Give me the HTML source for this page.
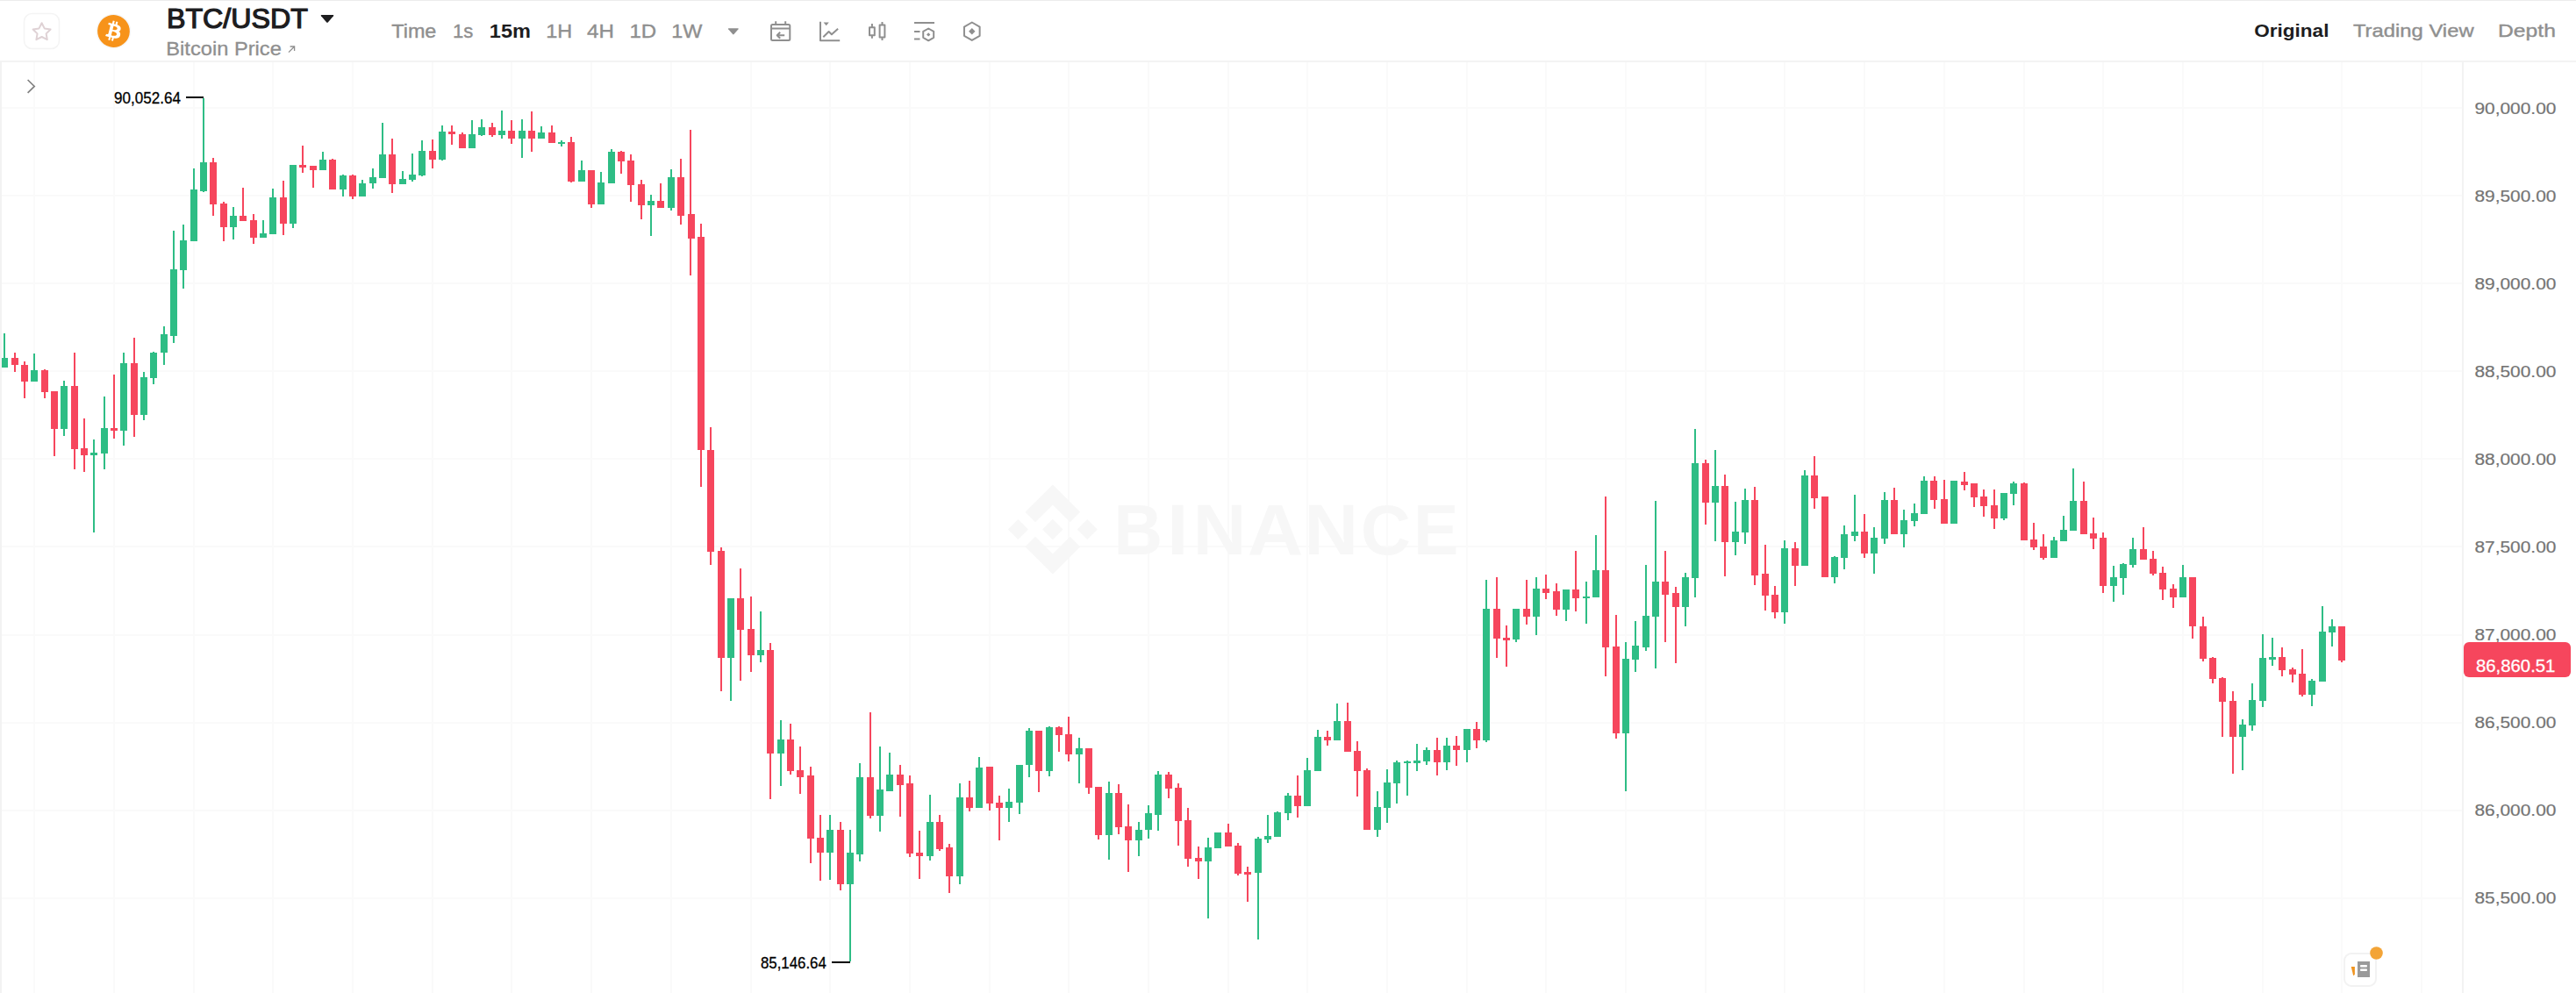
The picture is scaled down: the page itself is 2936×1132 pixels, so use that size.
<!DOCTYPE html>
<html lang="en"><head><meta charset="utf-8"><title>BTC/USDT | Binance Spot</title>
<style>html,body{margin:0;padding:0;background:#fff;overflow:hidden}body{width:2936px;height:1132px;font-family:"Liberation Sans",sans-serif}svg{display:block}text{font-family:"Liberation Sans",sans-serif}</style></head><body>
<svg width="2936" height="1132" viewBox="0 0 2936 1132">
<rect width="2936" height="1132" fill="#fff"/>
<g id="grid" shape-rendering="crispEdges">
<rect x="38" y="71" width="2" height="1061" fill="#fafafa"/>
<rect x="129" y="71" width="2" height="1061" fill="#fafafa"/>
<rect x="220" y="71" width="2" height="1061" fill="#fafafa"/>
<rect x="310" y="71" width="2" height="1061" fill="#fafafa"/>
<rect x="401" y="71" width="2" height="1061" fill="#fafafa"/>
<rect x="492" y="71" width="2" height="1061" fill="#fafafa"/>
<rect x="582" y="71" width="2" height="1061" fill="#fafafa"/>
<rect x="673" y="71" width="2" height="1061" fill="#fafafa"/>
<rect x="764" y="71" width="2" height="1061" fill="#fafafa"/>
<rect x="855" y="71" width="2" height="1061" fill="#fafafa"/>
<rect x="945" y="71" width="2" height="1061" fill="#fafafa"/>
<rect x="1036" y="71" width="2" height="1061" fill="#fafafa"/>
<rect x="1127" y="71" width="2" height="1061" fill="#fafafa"/>
<rect x="1217" y="71" width="2" height="1061" fill="#fafafa"/>
<rect x="1308" y="71" width="2" height="1061" fill="#fafafa"/>
<rect x="1399" y="71" width="2" height="1061" fill="#fafafa"/>
<rect x="1489" y="71" width="2" height="1061" fill="#fafafa"/>
<rect x="1580" y="71" width="2" height="1061" fill="#fafafa"/>
<rect x="1671" y="71" width="2" height="1061" fill="#fafafa"/>
<rect x="1761" y="71" width="2" height="1061" fill="#fafafa"/>
<rect x="1852" y="71" width="2" height="1061" fill="#fafafa"/>
<rect x="1943" y="71" width="2" height="1061" fill="#fafafa"/>
<rect x="2033" y="71" width="2" height="1061" fill="#fafafa"/>
<rect x="2124" y="71" width="2" height="1061" fill="#fafafa"/>
<rect x="2215" y="71" width="2" height="1061" fill="#fafafa"/>
<rect x="2306" y="71" width="2" height="1061" fill="#fafafa"/>
<rect x="2396" y="71" width="2" height="1061" fill="#fafafa"/>
<rect x="2487" y="71" width="2" height="1061" fill="#fafafa"/>
<rect x="2578" y="71" width="2" height="1061" fill="#fafafa"/>
<rect x="2668" y="71" width="2" height="1061" fill="#fafafa"/>
<rect x="2759" y="71" width="2" height="1061" fill="#fafafa"/>
<rect x="2" y="122" width="2805" height="2" fill="#fafafa"/>
<rect x="2" y="222" width="2805" height="2" fill="#fafafa"/>
<rect x="2" y="322" width="2805" height="2" fill="#fafafa"/>
<rect x="2" y="422" width="2805" height="2" fill="#fafafa"/>
<rect x="2" y="522" width="2805" height="2" fill="#fafafa"/>
<rect x="2" y="622" width="2805" height="2" fill="#fafafa"/>
<rect x="2" y="723" width="2805" height="2" fill="#fafafa"/>
<rect x="2" y="823" width="2805" height="2" fill="#fafafa"/>
<rect x="2" y="923" width="2805" height="2" fill="#fafafa"/>
<rect x="2" y="1023" width="2805" height="2" fill="#fafafa"/>
<rect x="2806" y="71" width="2" height="1061" fill="#f3f3f3"/>
</g>
<g id="watermark" fill="#f7f7f7">
<g transform="translate(1148.8,552.5) scale(0.8056)"><path d="M38.73 53.2l24.59-24.58 24.6 24.6 14.3-14.31L63.32 0l-38.9 38.9zM0 63.31l14.3-14.31 14.31 14.31-14.31 14.3zM38.73 73.41l24.59 24.59 24.6-24.6 14.31 14.29-38.9 38.91-38.91-38.88zM97.99 63.31l14.3-14.31 14.31 14.3-14.31 14.32zM77.83 63.3L63.32 48.78 52.59 59.51l-1.24 1.23-2.54 2.54 14.51 14.5 14.51-14.47z"/></g>
<text transform="translate(1269.47,631.8) scale(0.946,1)" font-size="81.3" font-weight="bold">B</text>
<text transform="translate(1330.37,631.8) scale(1.0667,1)" font-size="81.3" font-weight="bold">I</text>
<text transform="translate(1359.84,631.8) scale(1.0312,1)" font-size="81.3" font-weight="bold">N</text>
<text transform="translate(1421.83,631.8) scale(1.0833,1)" font-size="81.3" font-weight="bold">A</text>
<text transform="translate(1486.24,631.8) scale(1.0521,1)" font-size="81.3" font-weight="bold">N</text>
<text transform="translate(1551.06,631.8) scale(0.9808,1)" font-size="80.14" font-weight="bold">C</text>
<text transform="translate(1611.29,631.8) scale(0.9413,1)" font-size="81.3" font-weight="bold">E</text>
</g>
<g id="candles" shape-rendering="crispEdges">
<rect x="4" y="380" width="2" height="39" fill="#2EBD85"/><rect x="1" y="408" width="8" height="11" fill="#2EBD85"/>
<rect x="16" y="402" width="2" height="22" fill="#F6465D"/><rect x="13" y="408" width="8" height="8" fill="#F6465D"/>
<rect x="27" y="412" width="2" height="42" fill="#F6465D"/><rect x="24" y="416" width="8" height="19" fill="#F6465D"/>
<rect x="38" y="403" width="2" height="32" fill="#2EBD85"/><rect x="35" y="422" width="8" height="13" fill="#2EBD85"/>
<rect x="50" y="421" width="2" height="33" fill="#F6465D"/><rect x="47" y="422" width="8" height="25" fill="#F6465D"/>
<rect x="61" y="446" width="2" height="74" fill="#F6465D"/><rect x="58" y="446" width="8" height="43" fill="#F6465D"/>
<rect x="72" y="434" width="2" height="63" fill="#2EBD85"/><rect x="69" y="440" width="8" height="49" fill="#2EBD85"/>
<rect x="84" y="402" width="2" height="133" fill="#F6465D"/><rect x="81" y="440" width="8" height="72" fill="#F6465D"/>
<rect x="95" y="477" width="2" height="61" fill="#F6465D"/><rect x="92" y="511" width="8" height="8" fill="#F6465D"/>
<rect x="106" y="501" width="2" height="106" fill="#2EBD85"/><rect x="103" y="516" width="8" height="3" fill="#2EBD85"/>
<rect x="118" y="452" width="2" height="83" fill="#2EBD85"/><rect x="115" y="488" width="8" height="29" fill="#2EBD85"/>
<rect x="129" y="427" width="2" height="73" fill="#F6465D"/><rect x="126" y="488" width="8" height="3" fill="#F6465D"/>
<rect x="140" y="402" width="2" height="106" fill="#2EBD85"/><rect x="137" y="414" width="8" height="77" fill="#2EBD85"/>
<rect x="152" y="385" width="2" height="113" fill="#F6465D"/><rect x="149" y="414" width="8" height="59" fill="#F6465D"/>
<rect x="163" y="424" width="2" height="55" fill="#2EBD85"/><rect x="160" y="430" width="8" height="43" fill="#2EBD85"/>
<rect x="174" y="401" width="2" height="37" fill="#2EBD85"/><rect x="171" y="402" width="8" height="29" fill="#2EBD85"/>
<rect x="186" y="372" width="2" height="44" fill="#2EBD85"/><rect x="183" y="381" width="8" height="21" fill="#2EBD85"/>
<rect x="197" y="263" width="2" height="128" fill="#2EBD85"/><rect x="194" y="307" width="8" height="76" fill="#2EBD85"/>
<rect x="208" y="256" width="2" height="73" fill="#2EBD85"/><rect x="205" y="274" width="8" height="34" fill="#2EBD85"/>
<rect x="220" y="192" width="2" height="83" fill="#2EBD85"/><rect x="217" y="216" width="8" height="59" fill="#2EBD85"/>
<rect x="231" y="112" width="2" height="107" fill="#2EBD85"/><rect x="228" y="185" width="8" height="33" fill="#2EBD85"/>
<rect x="242" y="180" width="2" height="66" fill="#F6465D"/><rect x="239" y="185" width="8" height="48" fill="#F6465D"/>
<rect x="254" y="230" width="2" height="45" fill="#F6465D"/><rect x="251" y="232" width="8" height="27" fill="#F6465D"/>
<rect x="265" y="236" width="2" height="37" fill="#2EBD85"/><rect x="262" y="246" width="8" height="13" fill="#2EBD85"/>
<rect x="276" y="214" width="2" height="38" fill="#F6465D"/><rect x="273" y="246" width="8" height="6" fill="#F6465D"/>
<rect x="288" y="244" width="2" height="34" fill="#F6465D"/><rect x="285" y="251" width="8" height="20" fill="#F6465D"/>
<rect x="299" y="251" width="2" height="20" fill="#2EBD85"/><rect x="296" y="266" width="8" height="5" fill="#2EBD85"/>
<rect x="310" y="215" width="2" height="52" fill="#2EBD85"/><rect x="307" y="225" width="8" height="42" fill="#2EBD85"/>
<rect x="322" y="206" width="2" height="62" fill="#F6465D"/><rect x="319" y="225" width="8" height="30" fill="#F6465D"/>
<rect x="333" y="188" width="2" height="72" fill="#2EBD85"/><rect x="330" y="188" width="8" height="67" fill="#2EBD85"/>
<rect x="344" y="166" width="2" height="31" fill="#F6465D"/><rect x="341" y="188" width="8" height="3" fill="#F6465D"/>
<rect x="356" y="189" width="2" height="25" fill="#F6465D"/><rect x="353" y="189" width="8" height="5" fill="#F6465D"/>
<rect x="367" y="173" width="2" height="21" fill="#2EBD85"/><rect x="364" y="182" width="8" height="12" fill="#2EBD85"/>
<rect x="378" y="181" width="2" height="35" fill="#F6465D"/><rect x="375" y="182" width="8" height="34" fill="#F6465D"/>
<rect x="390" y="199" width="2" height="25" fill="#2EBD85"/><rect x="387" y="200" width="8" height="16" fill="#2EBD85"/>
<rect x="401" y="199" width="2" height="28" fill="#F6465D"/><rect x="398" y="200" width="8" height="24" fill="#F6465D"/>
<rect x="412" y="205" width="2" height="19" fill="#2EBD85"/><rect x="409" y="209" width="8" height="15" fill="#2EBD85"/>
<rect x="424" y="192" width="2" height="23" fill="#2EBD85"/><rect x="421" y="202" width="8" height="7" fill="#2EBD85"/>
<rect x="435" y="140" width="2" height="63" fill="#2EBD85"/><rect x="432" y="176" width="8" height="27" fill="#2EBD85"/>
<rect x="446" y="158" width="2" height="62" fill="#F6465D"/><rect x="443" y="176" width="8" height="34" fill="#F6465D"/>
<rect x="458" y="195" width="2" height="15" fill="#2EBD85"/><rect x="455" y="204" width="8" height="6" fill="#2EBD85"/>
<rect x="469" y="175" width="2" height="32" fill="#2EBD85"/><rect x="466" y="199" width="8" height="6" fill="#2EBD85"/>
<rect x="480" y="160" width="2" height="41" fill="#2EBD85"/><rect x="477" y="172" width="8" height="28" fill="#2EBD85"/>
<rect x="492" y="159" width="2" height="33" fill="#F6465D"/><rect x="489" y="172" width="8" height="10" fill="#F6465D"/>
<rect x="503" y="143" width="2" height="40" fill="#2EBD85"/><rect x="500" y="150" width="8" height="32" fill="#2EBD85"/>
<rect x="514" y="143" width="2" height="22" fill="#F6465D"/><rect x="511" y="150" width="8" height="3" fill="#F6465D"/>
<rect x="526" y="151" width="2" height="18" fill="#F6465D"/><rect x="523" y="153" width="8" height="16" fill="#F6465D"/>
<rect x="537" y="137" width="2" height="32" fill="#2EBD85"/><rect x="534" y="153" width="8" height="16" fill="#2EBD85"/>
<rect x="548" y="136" width="2" height="19" fill="#2EBD85"/><rect x="545" y="145" width="8" height="9" fill="#2EBD85"/>
<rect x="560" y="140" width="2" height="16" fill="#F6465D"/><rect x="557" y="145" width="8" height="9" fill="#F6465D"/>
<rect x="571" y="126" width="2" height="32" fill="#2EBD85"/><rect x="568" y="149" width="8" height="5" fill="#2EBD85"/>
<rect x="582" y="137" width="2" height="27" fill="#F6465D"/><rect x="579" y="149" width="8" height="9" fill="#F6465D"/>
<rect x="594" y="136" width="2" height="44" fill="#2EBD85"/><rect x="591" y="149" width="8" height="9" fill="#2EBD85"/>
<rect x="605" y="127" width="2" height="46" fill="#F6465D"/><rect x="602" y="149" width="8" height="9" fill="#F6465D"/>
<rect x="616" y="144" width="2" height="14" fill="#2EBD85"/><rect x="613" y="151" width="8" height="7" fill="#2EBD85"/>
<rect x="628" y="143" width="2" height="20" fill="#F6465D"/><rect x="625" y="151" width="8" height="12" fill="#F6465D"/>
<rect x="639" y="160" width="2" height="7" fill="#2EBD85"/><rect x="636" y="162" width="8" height="2" fill="#2EBD85"/>
<rect x="650" y="156" width="2" height="52" fill="#F6465D"/><rect x="647" y="162" width="8" height="45" fill="#F6465D"/>
<rect x="662" y="183" width="2" height="24" fill="#2EBD85"/><rect x="659" y="194" width="8" height="13" fill="#2EBD85"/>
<rect x="673" y="194" width="2" height="43" fill="#F6465D"/><rect x="670" y="194" width="8" height="39" fill="#F6465D"/>
<rect x="684" y="196" width="2" height="37" fill="#2EBD85"/><rect x="681" y="208" width="8" height="25" fill="#2EBD85"/>
<rect x="696" y="170" width="2" height="39" fill="#2EBD85"/><rect x="693" y="173" width="8" height="36" fill="#2EBD85"/>
<rect x="707" y="172" width="2" height="26" fill="#F6465D"/><rect x="704" y="173" width="8" height="11" fill="#F6465D"/>
<rect x="718" y="176" width="2" height="54" fill="#F6465D"/><rect x="715" y="183" width="8" height="28" fill="#F6465D"/>
<rect x="730" y="205" width="2" height="45" fill="#F6465D"/><rect x="727" y="210" width="8" height="24" fill="#F6465D"/>
<rect x="741" y="222" width="2" height="47" fill="#2EBD85"/><rect x="738" y="229" width="8" height="5" fill="#2EBD85"/>
<rect x="752" y="209" width="2" height="28" fill="#F6465D"/><rect x="749" y="229" width="8" height="8" fill="#F6465D"/>
<rect x="764" y="193" width="2" height="47" fill="#2EBD85"/><rect x="761" y="202" width="8" height="35" fill="#2EBD85"/>
<rect x="775" y="181" width="2" height="75" fill="#F6465D"/><rect x="772" y="202" width="8" height="44" fill="#F6465D"/>
<rect x="786" y="148" width="2" height="166" fill="#F6465D"/><rect x="784" y="244" width="8" height="28" fill="#F6465D"/>
<rect x="798" y="255" width="2" height="300" fill="#F6465D"/><rect x="795" y="270" width="8" height="243" fill="#F6465D"/>
<rect x="809" y="487" width="2" height="157" fill="#F6465D"/><rect x="806" y="513" width="8" height="116" fill="#F6465D"/>
<rect x="821" y="624" width="2" height="164" fill="#F6465D"/><rect x="818" y="628" width="8" height="122" fill="#F6465D"/>
<rect x="832" y="682" width="2" height="117" fill="#2EBD85"/><rect x="829" y="682" width="8" height="68" fill="#2EBD85"/>
<rect x="843" y="648" width="2" height="128" fill="#F6465D"/><rect x="840" y="682" width="8" height="36" fill="#F6465D"/>
<rect x="855" y="680" width="2" height="86" fill="#F6465D"/><rect x="852" y="717" width="8" height="30" fill="#F6465D"/>
<rect x="866" y="697" width="2" height="58" fill="#2EBD85"/><rect x="863" y="741" width="8" height="6" fill="#2EBD85"/>
<rect x="877" y="733" width="2" height="178" fill="#F6465D"/><rect x="874" y="741" width="8" height="118" fill="#F6465D"/>
<rect x="889" y="821" width="2" height="75" fill="#2EBD85"/><rect x="886" y="843" width="8" height="16" fill="#2EBD85"/>
<rect x="900" y="825" width="2" height="58" fill="#F6465D"/><rect x="897" y="843" width="8" height="36" fill="#F6465D"/>
<rect x="911" y="851" width="2" height="54" fill="#F6465D"/><rect x="908" y="878" width="8" height="8" fill="#F6465D"/>
<rect x="923" y="874" width="2" height="110" fill="#F6465D"/><rect x="920" y="884" width="8" height="72" fill="#F6465D"/>
<rect x="934" y="929" width="2" height="75" fill="#F6465D"/><rect x="931" y="955" width="8" height="17" fill="#F6465D"/>
<rect x="945" y="929" width="2" height="74" fill="#2EBD85"/><rect x="942" y="946" width="8" height="26" fill="#2EBD85"/>
<rect x="957" y="937" width="2" height="78" fill="#F6465D"/><rect x="954" y="946" width="8" height="62" fill="#F6465D"/>
<rect x="968" y="946" width="2" height="150" fill="#2EBD85"/><rect x="965" y="972" width="8" height="36" fill="#2EBD85"/>
<rect x="979" y="870" width="2" height="112" fill="#2EBD85"/><rect x="976" y="886" width="8" height="88" fill="#2EBD85"/>
<rect x="991" y="812" width="2" height="121" fill="#F6465D"/><rect x="988" y="886" width="8" height="44" fill="#F6465D"/>
<rect x="1002" y="851" width="2" height="97" fill="#2EBD85"/><rect x="999" y="900" width="8" height="30" fill="#2EBD85"/>
<rect x="1013" y="858" width="2" height="44" fill="#2EBD85"/><rect x="1010" y="883" width="8" height="19" fill="#2EBD85"/>
<rect x="1025" y="872" width="2" height="59" fill="#F6465D"/><rect x="1022" y="883" width="8" height="12" fill="#F6465D"/>
<rect x="1036" y="884" width="2" height="93" fill="#F6465D"/><rect x="1033" y="893" width="8" height="80" fill="#F6465D"/>
<rect x="1047" y="947" width="2" height="55" fill="#F6465D"/><rect x="1044" y="972" width="8" height="4" fill="#F6465D"/>
<rect x="1059" y="906" width="2" height="75" fill="#2EBD85"/><rect x="1056" y="937" width="8" height="39" fill="#2EBD85"/>
<rect x="1070" y="929" width="2" height="41" fill="#F6465D"/><rect x="1067" y="937" width="8" height="31" fill="#F6465D"/>
<rect x="1081" y="962" width="2" height="56" fill="#F6465D"/><rect x="1078" y="966" width="8" height="33" fill="#F6465D"/>
<rect x="1093" y="893" width="2" height="115" fill="#2EBD85"/><rect x="1090" y="909" width="8" height="90" fill="#2EBD85"/>
<rect x="1104" y="890" width="2" height="35" fill="#F6465D"/><rect x="1101" y="909" width="8" height="12" fill="#F6465D"/>
<rect x="1115" y="863" width="2" height="58" fill="#2EBD85"/><rect x="1112" y="875" width="8" height="46" fill="#2EBD85"/>
<rect x="1127" y="874" width="2" height="50" fill="#F6465D"/><rect x="1124" y="874" width="8" height="42" fill="#F6465D"/>
<rect x="1138" y="907" width="2" height="51" fill="#F6465D"/><rect x="1135" y="915" width="8" height="6" fill="#F6465D"/>
<rect x="1149" y="899" width="2" height="38" fill="#2EBD85"/><rect x="1146" y="914" width="8" height="7" fill="#2EBD85"/>
<rect x="1161" y="872" width="2" height="56" fill="#2EBD85"/><rect x="1158" y="872" width="8" height="43" fill="#2EBD85"/>
<rect x="1172" y="830" width="2" height="56" fill="#2EBD85"/><rect x="1169" y="833" width="8" height="39" fill="#2EBD85"/>
<rect x="1183" y="833" width="2" height="70" fill="#F6465D"/><rect x="1180" y="833" width="8" height="46" fill="#F6465D"/>
<rect x="1195" y="828" width="2" height="57" fill="#2EBD85"/><rect x="1192" y="829" width="8" height="50" fill="#2EBD85"/>
<rect x="1206" y="828" width="2" height="29" fill="#F6465D"/><rect x="1203" y="829" width="8" height="9" fill="#F6465D"/>
<rect x="1217" y="817" width="2" height="51" fill="#F6465D"/><rect x="1214" y="837" width="8" height="23" fill="#F6465D"/>
<rect x="1229" y="841" width="2" height="52" fill="#2EBD85"/><rect x="1226" y="853" width="8" height="7" fill="#2EBD85"/>
<rect x="1240" y="853" width="2" height="52" fill="#F6465D"/><rect x="1237" y="853" width="8" height="45" fill="#F6465D"/>
<rect x="1251" y="897" width="2" height="60" fill="#F6465D"/><rect x="1248" y="897" width="8" height="55" fill="#F6465D"/>
<rect x="1263" y="891" width="2" height="89" fill="#2EBD85"/><rect x="1260" y="904" width="8" height="48" fill="#2EBD85"/>
<rect x="1274" y="894" width="2" height="57" fill="#F6465D"/><rect x="1271" y="904" width="8" height="39" fill="#F6465D"/>
<rect x="1285" y="917" width="2" height="77" fill="#F6465D"/><rect x="1282" y="942" width="8" height="16" fill="#F6465D"/>
<rect x="1297" y="937" width="2" height="39" fill="#2EBD85"/><rect x="1294" y="946" width="8" height="12" fill="#2EBD85"/>
<rect x="1308" y="918" width="2" height="38" fill="#2EBD85"/><rect x="1305" y="927" width="8" height="19" fill="#2EBD85"/>
<rect x="1319" y="879" width="2" height="68" fill="#2EBD85"/><rect x="1316" y="883" width="8" height="46" fill="#2EBD85"/>
<rect x="1331" y="880" width="2" height="30" fill="#F6465D"/><rect x="1328" y="883" width="8" height="16" fill="#F6465D"/>
<rect x="1342" y="893" width="2" height="71" fill="#F6465D"/><rect x="1339" y="898" width="8" height="38" fill="#F6465D"/>
<rect x="1353" y="921" width="2" height="67" fill="#F6465D"/><rect x="1350" y="935" width="8" height="44" fill="#F6465D"/>
<rect x="1365" y="965" width="2" height="37" fill="#F6465D"/><rect x="1362" y="978" width="8" height="4" fill="#F6465D"/>
<rect x="1376" y="955" width="2" height="92" fill="#2EBD85"/><rect x="1373" y="966" width="8" height="16" fill="#2EBD85"/>
<rect x="1387" y="949" width="2" height="18" fill="#2EBD85"/><rect x="1384" y="949" width="8" height="18" fill="#2EBD85"/>
<rect x="1399" y="939" width="2" height="26" fill="#F6465D"/><rect x="1396" y="949" width="8" height="16" fill="#F6465D"/>
<rect x="1410" y="961" width="2" height="37" fill="#F6465D"/><rect x="1407" y="964" width="8" height="32" fill="#F6465D"/>
<rect x="1421" y="988" width="2" height="40" fill="#F6465D"/><rect x="1418" y="994" width="8" height="3" fill="#F6465D"/>
<rect x="1433" y="954" width="2" height="117" fill="#2EBD85"/><rect x="1430" y="956" width="8" height="39" fill="#2EBD85"/>
<rect x="1444" y="929" width="2" height="32" fill="#2EBD85"/><rect x="1441" y="953" width="8" height="4" fill="#2EBD85"/>
<rect x="1455" y="925" width="2" height="29" fill="#2EBD85"/><rect x="1452" y="926" width="8" height="28" fill="#2EBD85"/>
<rect x="1467" y="904" width="2" height="31" fill="#2EBD85"/><rect x="1464" y="907" width="8" height="20" fill="#2EBD85"/>
<rect x="1478" y="884" width="2" height="48" fill="#F6465D"/><rect x="1475" y="907" width="8" height="12" fill="#F6465D"/>
<rect x="1489" y="864" width="2" height="55" fill="#2EBD85"/><rect x="1486" y="878" width="8" height="41" fill="#2EBD85"/>
<rect x="1501" y="832" width="2" height="47" fill="#2EBD85"/><rect x="1498" y="840" width="8" height="39" fill="#2EBD85"/>
<rect x="1512" y="833" width="2" height="17" fill="#F6465D"/><rect x="1509" y="840" width="8" height="4" fill="#F6465D"/>
<rect x="1523" y="802" width="2" height="42" fill="#2EBD85"/><rect x="1520" y="822" width="8" height="22" fill="#2EBD85"/>
<rect x="1535" y="801" width="2" height="56" fill="#F6465D"/><rect x="1532" y="822" width="8" height="35" fill="#F6465D"/>
<rect x="1546" y="845" width="2" height="63" fill="#F6465D"/><rect x="1543" y="856" width="8" height="23" fill="#F6465D"/>
<rect x="1557" y="876" width="2" height="70" fill="#F6465D"/><rect x="1554" y="878" width="8" height="68" fill="#F6465D"/>
<rect x="1569" y="902" width="2" height="52" fill="#2EBD85"/><rect x="1566" y="920" width="8" height="26" fill="#2EBD85"/>
<rect x="1580" y="877" width="2" height="61" fill="#2EBD85"/><rect x="1577" y="892" width="8" height="29" fill="#2EBD85"/>
<rect x="1591" y="867" width="2" height="49" fill="#2EBD85"/><rect x="1588" y="869" width="8" height="24" fill="#2EBD85"/>
<rect x="1603" y="867" width="2" height="40" fill="#2EBD85"/><rect x="1600" y="868" width="8" height="2" fill="#2EBD85"/>
<rect x="1614" y="848" width="2" height="31" fill="#2EBD85"/><rect x="1611" y="867" width="8" height="3" fill="#2EBD85"/>
<rect x="1625" y="852" width="2" height="20" fill="#2EBD85"/><rect x="1622" y="855" width="8" height="13" fill="#2EBD85"/>
<rect x="1637" y="841" width="2" height="43" fill="#F6465D"/><rect x="1634" y="855" width="8" height="14" fill="#F6465D"/>
<rect x="1648" y="841" width="2" height="37" fill="#2EBD85"/><rect x="1645" y="850" width="8" height="19" fill="#2EBD85"/>
<rect x="1659" y="839" width="2" height="34" fill="#F6465D"/><rect x="1656" y="850" width="8" height="5" fill="#F6465D"/>
<rect x="1671" y="831" width="2" height="38" fill="#2EBD85"/><rect x="1668" y="831" width="8" height="24" fill="#2EBD85"/>
<rect x="1682" y="823" width="2" height="30" fill="#F6465D"/><rect x="1679" y="831" width="8" height="13" fill="#F6465D"/>
<rect x="1693" y="661" width="2" height="185" fill="#2EBD85"/><rect x="1690" y="694" width="8" height="150" fill="#2EBD85"/>
<rect x="1705" y="658" width="2" height="92" fill="#F6465D"/><rect x="1702" y="694" width="8" height="34" fill="#F6465D"/>
<rect x="1716" y="713" width="2" height="47" fill="#F6465D"/><rect x="1713" y="727" width="8" height="3" fill="#F6465D"/>
<rect x="1727" y="694" width="2" height="38" fill="#2EBD85"/><rect x="1724" y="694" width="8" height="35" fill="#2EBD85"/>
<rect x="1739" y="661" width="2" height="51" fill="#F6465D"/><rect x="1736" y="694" width="8" height="9" fill="#F6465D"/>
<rect x="1750" y="658" width="2" height="66" fill="#2EBD85"/><rect x="1747" y="671" width="8" height="32" fill="#2EBD85"/>
<rect x="1761" y="655" width="2" height="28" fill="#F6465D"/><rect x="1758" y="671" width="8" height="5" fill="#F6465D"/>
<rect x="1773" y="665" width="2" height="37" fill="#F6465D"/><rect x="1770" y="674" width="8" height="21" fill="#F6465D"/>
<rect x="1784" y="672" width="2" height="36" fill="#2EBD85"/><rect x="1781" y="672" width="8" height="23" fill="#2EBD85"/>
<rect x="1795" y="628" width="2" height="69" fill="#F6465D"/><rect x="1792" y="672" width="8" height="10" fill="#F6465D"/>
<rect x="1807" y="663" width="2" height="48" fill="#2EBD85"/><rect x="1804" y="680" width="8" height="2" fill="#2EBD85"/>
<rect x="1818" y="610" width="2" height="71" fill="#2EBD85"/><rect x="1815" y="650" width="8" height="31" fill="#2EBD85"/>
<rect x="1829" y="566" width="2" height="205" fill="#F6465D"/><rect x="1826" y="650" width="8" height="88" fill="#F6465D"/>
<rect x="1841" y="701" width="2" height="141" fill="#F6465D"/><rect x="1838" y="737" width="8" height="99" fill="#F6465D"/>
<rect x="1852" y="732" width="2" height="170" fill="#2EBD85"/><rect x="1849" y="751" width="8" height="85" fill="#2EBD85"/>
<rect x="1863" y="708" width="2" height="58" fill="#2EBD85"/><rect x="1860" y="736" width="8" height="16" fill="#2EBD85"/>
<rect x="1875" y="644" width="2" height="98" fill="#2EBD85"/><rect x="1872" y="702" width="8" height="36" fill="#2EBD85"/>
<rect x="1886" y="571" width="2" height="191" fill="#2EBD85"/><rect x="1883" y="663" width="8" height="40" fill="#2EBD85"/>
<rect x="1897" y="628" width="2" height="104" fill="#F6465D"/><rect x="1894" y="663" width="8" height="15" fill="#F6465D"/>
<rect x="1909" y="669" width="2" height="87" fill="#F6465D"/><rect x="1906" y="676" width="8" height="16" fill="#F6465D"/>
<rect x="1920" y="653" width="2" height="61" fill="#2EBD85"/><rect x="1917" y="658" width="8" height="34" fill="#2EBD85"/>
<rect x="1931" y="489" width="2" height="192" fill="#2EBD85"/><rect x="1928" y="528" width="8" height="131" fill="#2EBD85"/>
<rect x="1943" y="524" width="2" height="74" fill="#F6465D"/><rect x="1940" y="528" width="8" height="45" fill="#F6465D"/>
<rect x="1954" y="513" width="2" height="104" fill="#2EBD85"/><rect x="1951" y="554" width="8" height="19" fill="#2EBD85"/>
<rect x="1965" y="541" width="2" height="116" fill="#F6465D"/><rect x="1962" y="554" width="8" height="64" fill="#F6465D"/>
<rect x="1977" y="572" width="2" height="61" fill="#2EBD85"/><rect x="1974" y="606" width="8" height="12" fill="#2EBD85"/>
<rect x="1988" y="557" width="2" height="63" fill="#2EBD85"/><rect x="1985" y="570" width="8" height="37" fill="#2EBD85"/>
<rect x="1999" y="555" width="2" height="112" fill="#F6465D"/><rect x="1996" y="570" width="8" height="86" fill="#F6465D"/>
<rect x="2011" y="621" width="2" height="75" fill="#F6465D"/><rect x="2008" y="654" width="8" height="25" fill="#F6465D"/>
<rect x="2022" y="668" width="2" height="37" fill="#F6465D"/><rect x="2019" y="678" width="8" height="20" fill="#F6465D"/>
<rect x="2033" y="616" width="2" height="95" fill="#2EBD85"/><rect x="2030" y="625" width="8" height="73" fill="#2EBD85"/>
<rect x="2045" y="618" width="2" height="50" fill="#F6465D"/><rect x="2042" y="625" width="8" height="20" fill="#F6465D"/>
<rect x="2056" y="536" width="2" height="109" fill="#2EBD85"/><rect x="2053" y="542" width="8" height="103" fill="#2EBD85"/>
<rect x="2067" y="520" width="2" height="60" fill="#F6465D"/><rect x="2064" y="542" width="8" height="26" fill="#F6465D"/>
<rect x="2079" y="566" width="2" height="92" fill="#F6465D"/><rect x="2076" y="566" width="8" height="92" fill="#F6465D"/>
<rect x="2090" y="634" width="2" height="31" fill="#2EBD85"/><rect x="2087" y="635" width="8" height="23" fill="#2EBD85"/>
<rect x="2101" y="599" width="2" height="50" fill="#2EBD85"/><rect x="2098" y="609" width="8" height="27" fill="#2EBD85"/>
<rect x="2113" y="564" width="2" height="53" fill="#2EBD85"/><rect x="2110" y="606" width="8" height="5" fill="#2EBD85"/>
<rect x="2124" y="586" width="2" height="50" fill="#F6465D"/><rect x="2121" y="606" width="8" height="25" fill="#F6465D"/>
<rect x="2135" y="601" width="2" height="53" fill="#2EBD85"/><rect x="2132" y="613" width="8" height="18" fill="#2EBD85"/>
<rect x="2147" y="561" width="2" height="59" fill="#2EBD85"/><rect x="2144" y="570" width="8" height="44" fill="#2EBD85"/>
<rect x="2158" y="556" width="2" height="53" fill="#F6465D"/><rect x="2155" y="570" width="8" height="39" fill="#F6465D"/>
<rect x="2169" y="581" width="2" height="43" fill="#2EBD85"/><rect x="2166" y="593" width="8" height="16" fill="#2EBD85"/>
<rect x="2181" y="574" width="2" height="26" fill="#2EBD85"/><rect x="2178" y="585" width="8" height="9" fill="#2EBD85"/>
<rect x="2192" y="543" width="2" height="43" fill="#2EBD85"/><rect x="2189" y="548" width="8" height="38" fill="#2EBD85"/>
<rect x="2204" y="543" width="2" height="37" fill="#F6465D"/><rect x="2200" y="548" width="8" height="22" fill="#F6465D"/>
<rect x="2215" y="547" width="2" height="50" fill="#F6465D"/><rect x="2212" y="569" width="8" height="28" fill="#F6465D"/>
<rect x="2226" y="548" width="2" height="49" fill="#2EBD85"/><rect x="2223" y="548" width="8" height="49" fill="#2EBD85"/>
<rect x="2238" y="538" width="2" height="21" fill="#F6465D"/><rect x="2235" y="549" width="8" height="4" fill="#F6465D"/>
<rect x="2249" y="551" width="2" height="27" fill="#F6465D"/><rect x="2246" y="551" width="8" height="16" fill="#F6465D"/>
<rect x="2260" y="558" width="2" height="31" fill="#F6465D"/><rect x="2257" y="566" width="8" height="11" fill="#F6465D"/>
<rect x="2272" y="558" width="2" height="45" fill="#F6465D"/><rect x="2269" y="576" width="8" height="15" fill="#F6465D"/>
<rect x="2283" y="562" width="2" height="31" fill="#2EBD85"/><rect x="2280" y="562" width="8" height="29" fill="#2EBD85"/>
<rect x="2294" y="549" width="2" height="27" fill="#2EBD85"/><rect x="2291" y="551" width="8" height="12" fill="#2EBD85"/>
<rect x="2306" y="550" width="2" height="66" fill="#F6465D"/><rect x="2303" y="551" width="8" height="65" fill="#F6465D"/>
<rect x="2317" y="596" width="2" height="31" fill="#F6465D"/><rect x="2314" y="615" width="8" height="9" fill="#F6465D"/>
<rect x="2328" y="609" width="2" height="29" fill="#F6465D"/><rect x="2325" y="623" width="8" height="13" fill="#F6465D"/>
<rect x="2340" y="612" width="2" height="24" fill="#2EBD85"/><rect x="2337" y="616" width="8" height="20" fill="#2EBD85"/>
<rect x="2351" y="588" width="2" height="29" fill="#2EBD85"/><rect x="2348" y="604" width="8" height="13" fill="#2EBD85"/>
<rect x="2362" y="534" width="2" height="71" fill="#2EBD85"/><rect x="2359" y="571" width="8" height="34" fill="#2EBD85"/>
<rect x="2374" y="549" width="2" height="60" fill="#F6465D"/><rect x="2371" y="571" width="8" height="38" fill="#F6465D"/>
<rect x="2385" y="590" width="2" height="36" fill="#F6465D"/><rect x="2382" y="608" width="8" height="6" fill="#F6465D"/>
<rect x="2396" y="607" width="2" height="69" fill="#F6465D"/><rect x="2393" y="613" width="8" height="55" fill="#F6465D"/>
<rect x="2408" y="645" width="2" height="41" fill="#2EBD85"/><rect x="2405" y="658" width="8" height="10" fill="#2EBD85"/>
<rect x="2419" y="642" width="2" height="36" fill="#2EBD85"/><rect x="2416" y="643" width="8" height="16" fill="#2EBD85"/>
<rect x="2430" y="613" width="2" height="34" fill="#2EBD85"/><rect x="2427" y="626" width="8" height="18" fill="#2EBD85"/>
<rect x="2442" y="601" width="2" height="37" fill="#F6465D"/><rect x="2439" y="626" width="8" height="12" fill="#F6465D"/>
<rect x="2453" y="628" width="2" height="28" fill="#F6465D"/><rect x="2450" y="637" width="8" height="17" fill="#F6465D"/>
<rect x="2464" y="646" width="2" height="38" fill="#F6465D"/><rect x="2461" y="653" width="8" height="19" fill="#F6465D"/>
<rect x="2476" y="666" width="2" height="27" fill="#F6465D"/><rect x="2473" y="671" width="8" height="10" fill="#F6465D"/>
<rect x="2487" y="644" width="2" height="37" fill="#2EBD85"/><rect x="2484" y="658" width="8" height="23" fill="#2EBD85"/>
<rect x="2498" y="658" width="2" height="70" fill="#F6465D"/><rect x="2495" y="658" width="8" height="56" fill="#F6465D"/>
<rect x="2510" y="703" width="2" height="51" fill="#F6465D"/><rect x="2507" y="714" width="8" height="37" fill="#F6465D"/>
<rect x="2521" y="749" width="2" height="30" fill="#F6465D"/><rect x="2518" y="750" width="8" height="24" fill="#F6465D"/>
<rect x="2532" y="772" width="2" height="68" fill="#F6465D"/><rect x="2529" y="773" width="8" height="27" fill="#F6465D"/>
<rect x="2544" y="788" width="2" height="94" fill="#F6465D"/><rect x="2541" y="799" width="8" height="41" fill="#F6465D"/>
<rect x="2555" y="820" width="2" height="58" fill="#2EBD85"/><rect x="2552" y="826" width="8" height="14" fill="#2EBD85"/>
<rect x="2566" y="779" width="2" height="54" fill="#2EBD85"/><rect x="2563" y="798" width="8" height="29" fill="#2EBD85"/>
<rect x="2578" y="723" width="2" height="83" fill="#2EBD85"/><rect x="2575" y="750" width="8" height="49" fill="#2EBD85"/>
<rect x="2589" y="727" width="2" height="32" fill="#2EBD85"/><rect x="2586" y="749" width="8" height="3" fill="#2EBD85"/>
<rect x="2600" y="738" width="2" height="33" fill="#F6465D"/><rect x="2597" y="749" width="8" height="15" fill="#F6465D"/>
<rect x="2612" y="761" width="2" height="17" fill="#F6465D"/><rect x="2609" y="763" width="8" height="6" fill="#F6465D"/>
<rect x="2623" y="740" width="2" height="54" fill="#F6465D"/><rect x="2620" y="768" width="8" height="24" fill="#F6465D"/>
<rect x="2634" y="774" width="2" height="31" fill="#2EBD85"/><rect x="2631" y="776" width="8" height="16" fill="#2EBD85"/>
<rect x="2646" y="691" width="2" height="86" fill="#2EBD85"/><rect x="2643" y="720" width="8" height="57" fill="#2EBD85"/>
<rect x="2657" y="706" width="2" height="31" fill="#2EBD85"/><rect x="2654" y="714" width="8" height="7" fill="#2EBD85"/>
<rect x="2668" y="714" width="2" height="41" fill="#F6465D"/><rect x="2665" y="714" width="8" height="39" fill="#F6465D"/>
</g>
<rect x="0" y="71" width="2" height="1061" fill="#f2f2f2" shape-rendering="crispEdges"/>
<g id="marks" shape-rendering="crispEdges"><rect x="212" y="110" width="20" height="2" fill="#000"/><rect x="948" y="1096" width="21" height="2" fill="#000"/></g>
<text transform="translate(129.97,118.0) scale(0.9337,1)" font-size="18.29" font-weight="normal" fill="#000" stroke="#000" stroke-width="0.3">90,052.64</text>
<text transform="translate(866.96,1104.1) scale(0.9354,1)" font-size="18.0" font-weight="normal" fill="#000" stroke="#000" stroke-width="0.3">85,146.64</text>
<g id="yaxis">
<text transform="translate(2820.38,129.75) scale(1.1185,1)" font-size="18.71" font-weight="normal" fill="#747474" stroke="#747474" stroke-width="0.2">90,000.00</text>
<text transform="translate(2820.38,229.8) scale(1.1185,1)" font-size="18.71" font-weight="normal" fill="#747474" stroke="#747474" stroke-width="0.2">89,500.00</text>
<text transform="translate(2820.38,329.85) scale(1.1185,1)" font-size="18.71" font-weight="normal" fill="#747474" stroke="#747474" stroke-width="0.2">89,000.00</text>
<text transform="translate(2820.38,429.9) scale(1.1185,1)" font-size="18.71" font-weight="normal" fill="#747474" stroke="#747474" stroke-width="0.2">88,500.00</text>
<text transform="translate(2820.38,529.9499999999999) scale(1.1185,1)" font-size="18.71" font-weight="normal" fill="#747474" stroke="#747474" stroke-width="0.2">88,000.00</text>
<text transform="translate(2820.38,630.0) scale(1.1185,1)" font-size="18.71" font-weight="normal" fill="#747474" stroke="#747474" stroke-width="0.2">87,500.00</text>
<text transform="translate(2820.38,730.05) scale(1.1185,1)" font-size="18.71" font-weight="normal" fill="#747474" stroke="#747474" stroke-width="0.2">87,000.00</text>
<text transform="translate(2820.38,830.1) scale(1.1185,1)" font-size="18.71" font-weight="normal" fill="#747474" stroke="#747474" stroke-width="0.2">86,500.00</text>
<text transform="translate(2820.38,930.15) scale(1.1185,1)" font-size="18.71" font-weight="normal" fill="#747474" stroke="#747474" stroke-width="0.2">86,000.00</text>
<text transform="translate(2820.38,1030.2) scale(1.1185,1)" font-size="18.71" font-weight="normal" fill="#747474" stroke="#747474" stroke-width="0.2">85,500.00</text>
<rect x="2808" y="732" width="122" height="40" rx="6" fill="#F6465D"/>
<text transform="translate(2821.97,766.4) scale(1.0326,1)" font-size="19.71" font-weight="normal" fill="#fff" stroke="#fff" stroke-width="0.3">86,860.51</text>
</g>
<g id="note">
<rect x="2672" y="1087" width="36" height="37" rx="8" fill="#fff" stroke="#f2f2f2" stroke-width="2"/>
<rect x="2687" y="1096" width="14" height="18" fill="#9a9a9a"/><rect x="2690" y="1100" width="8" height="2.5" rx="1" fill="#fff"/><rect x="2690" y="1104.5" width="8" height="2.5" rx="1" fill="#fff"/>
<path d="M2679.700 1102h4.200v9l-1.700 1.300z" fill="#F0941F"/>
<circle cx="2708.5" cy="1086.5" r="7.3" fill="#F3A437"/>
</g>
<path d="M31.6 91l7.6 7.4-7.6 7.4" fill="none" stroke="#828282" stroke-width="1.7"/>
<g id="header">
<rect x="0" y="0" width="2936" height="1" fill="#ececec"/>
<rect x="0" y="69" width="2936" height="2" fill="#f3f3f3"/>
<rect x="27.5" y="15.5" width="40" height="40" rx="9" fill="#fff" stroke="#f4f4f4" stroke-width="1.5"/>
<polygon points="47.60,26.20 50.72,32.41 57.59,33.46 52.64,38.34 53.77,45.19 47.60,42.00 41.43,45.19 42.56,38.34 37.61,33.46 44.48,32.41" fill="none" stroke="#dfd2d5" stroke-width="2" stroke-linejoin="round"/>
<circle cx="129.5" cy="35.5" r="19.8" fill="#f6f6f6"/>
<g transform="translate(111.1,17.1) scale(0.008995)"><path fill="#F7931A" d="M4030.06 2540.77c-273.24,1096.01 -1383.32,1763.02 -2479.46,1489.71 -1095.68,-273.24 -1762.69,-1383.39 -1489.33,-2479.31 273.12,-1096.13 1383.2,-1763.19 2479,-1489.95 1096.06,273.24 1763.03,1383.51 1489.76,2479.57l0.02 -0.02z"/><path fill="#fff" d="M2947.77 1754.38c40.72,-272.26 -166.56,-418.61 -450,-516.24l91.95 -368.8 -224.5 -55.94 -89.51 359.09c-59.02,-14.72 -119.63,-28.59 -179.87,-42.34l90.16 -361.46 -224.36 -55.94 -92 368.68c-48.84,-11.12 -96.81,-22.11 -143.35,-33.69l0.26 -1.16 -309.59 -77.31 -59.72 239.78c0,0 166.56,38.18 163.05,40.53 90.91,22.69 107.35,82.87 104.62,130.57l-104.74 420.15c6.26,1.59 14.38,3.89 23.34,7.49 -7.49,-1.86 -15.46,-3.89 -23.73,-5.87l-146.81 588.57c-11.11,27.62 -39.31,69.07 -102.87,53.33 2.25,3.26 -163.17,-40.72 -163.17,-40.72l-111.46 256.98 292.15 72.83c54.35,13.63 107.61,27.89 160.06,41.3l-92.9 373.03 224.24 55.94 92 -369.07c61.26,16.63 120.71,31.97 178.91,46.43l-91.69 367.33 224.51 55.94 92.89 -372.33c382.82,72.45 670.67,43.24 791.83,-303.02 97.63,-278.78 -4.86,-439.58 -206.26,-544.44 146.69,-33.83 257.18,-130.31 286.64,-329.61l-0.07 -0.05zm-512.93 719.26c-69.38,278.78 -538.76,128.08 -690.94,90.29l123.28 -494.2c152.17,37.99 640.17,113.17 567.67,403.91zm69.43 -723.3c-63.29,253.58 -453.96,124.75 -580.69,93.16l111.77 -448.21c126.73,31.59 534.85,90.55 468.94,355.05l-0.02 0z"/></g>
<text transform="translate(189.94,31.8) scale(1.0312,1)" font-size="31.23" font-weight="normal" fill="#1d1d1f" stroke="#1d1d1f" stroke-width="1.25">BTC/USDT</text>
<path d="M366.6 17h12.8q1.6 0 .6 1.3l-6 7q-1 1.1-2 0l-6-7q-1-1.300.6-1.3z" fill="#1d1d1f"/>
<text transform="translate(189.34,62.8) scale(1.0798,1)" font-size="21.92" font-weight="normal" fill="#8f8f8f" stroke="#8f8f8f" stroke-width="0.3">Bitcoin Price</text>
<path d="M329 59.600l6.400-6.400M330.600 53h5v5" fill="none" stroke="#8f8f8f" stroke-width="1.3"/>
<text transform="translate(446.3,42.6) scale(1.0809,1)" font-size="21.64" font-weight="normal" fill="#8f8f8f" stroke="#8f8f8f" stroke-width="0.4">Time</text>
<text transform="translate(516.03,42.6) scale(0.9652,1)" font-size="22.9" font-weight="normal" fill="#8f8f8f" stroke="#8f8f8f" stroke-width="0.4">1s</text>
<text transform="translate(557.87,42.6) scale(1.0279,1)" font-size="22.9" font-weight="bold" fill="#1d1d1f">15m</text>
<text transform="translate(622.27,42.6) scale(1.0259,1)" font-size="22.9" font-weight="normal" fill="#8f8f8f" stroke="#8f8f8f" stroke-width="0.4">1H</text>
<text transform="translate(669.1,42.6) scale(1.0536,1)" font-size="22.9" font-weight="normal" fill="#8f8f8f" stroke="#8f8f8f" stroke-width="0.4">4H</text>
<text transform="translate(717.45,42.6) scale(1.0481,1)" font-size="22.9" font-weight="normal" fill="#8f8f8f" stroke="#8f8f8f" stroke-width="0.4">1D</text>
<text transform="translate(765.18,42.6) scale(1.0242,1)" font-size="22.9" font-weight="normal" fill="#8f8f8f" stroke="#8f8f8f" stroke-width="0.4">1W</text>
<text transform="translate(2569.13,42.2) scale(1.0701,1)" font-size="21.1" font-weight="bold" fill="#1d1d1f">Original</text>
<text transform="translate(2681.9,42.2) scale(1.1295,1)" font-size="21.1" font-weight="normal" fill="#8f8f8f" stroke="#8f8f8f" stroke-width="0.4">Trading View</text>
<text transform="translate(2847.03,42.2) scale(1.1704,1)" font-size="21.1" font-weight="normal" fill="#8f8f8f" stroke="#8f8f8f" stroke-width="0.4">Depth</text>
<path d="M830.600 32.200h10.400q1.300 0 .5 1l-5 5.800q-.7.800-1.400 0l-5-5.800q-.8-1 .5-1z" fill="#8f8f8f"/>
<g fill="none" stroke="#8f8f8f" stroke-width="2" stroke-linejoin="round">
<rect x="879" y="28" width="21.300" height="18" rx="1.500"/><path d="M879 32.400h21.300M884.200 24.300v3.700M895.200 24.300v3.700M894.200 40.200h-8.500M889.200 36.700l-3.500 3.500 3.500 3.500"/>
<path d="M935 24.700v21.600h22.200M938.300 42.300l6.300-6.300 3.300 3.300 7.200-6.600"/>
<path d="M938.600 25.500h6.200l-3.100 3.800z" fill="#8f8f8f" stroke="none"/>
<rect x="991" y="31.200" width="5.800" height="9"/><path d="M993.900 27.100v4M993.900 40.200v3.600"/><rect x="1002.600" y="28.600" width="5.800" height="13.800"/><path d="M1005.500 24.900v3.600M1005.500 42.400v3.600"/>
<path d="M1042 26.100h23M1042 36.100h6.500M1042 44.400h6.500"/>
<polygon points="1058.20,32.50 1064.18,35.95 1064.18,42.85 1058.20,46.30 1052.22,42.85 1052.22,35.95"/>
<polygon points="1107.80,25.50 1116.63,30.60 1116.63,40.80 1107.80,45.90 1098.97,40.80 1098.97,30.60"/>
</g>
<path d="M1058.200 37.200l2.200 2.200-2.200 2.200-2.200-2.200z" fill="#8f8f8f"/>
<path d="M1107.800 32l3.700 3.700-3.700 3.700-3.700-3.700z" fill="#8f8f8f"/>
</g>
</svg></body></html>
